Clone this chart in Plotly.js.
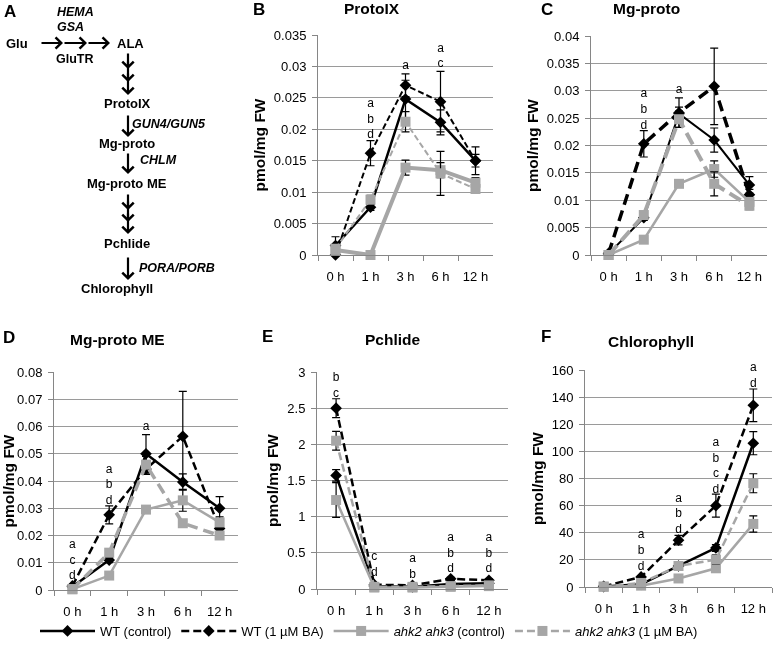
<!DOCTYPE html>
<html><head><meta charset="utf-8">
<script src="https://cdn.plot.ly/plotly-3.0.1.min.js"></script>
<style>html,body{margin:0;padding:0;background:#fff}#chart{width:774px;height:650px;filter:grayscale(100%)}</style>
</head><body><div id="chart"></div>
<script>
// ---------- data ----------
const categories = ['0 h', '1 h', '3 h', '6 h', '12 h'];
const seriesNames = ['WT (control)', 'WT (1 µM BA)', '<i>ahk2 ahk3</i> (control)', '<i>ahk2 ahk3</i> (1 µM BA)'];
const panelTitles = ['ProtoIX', 'Mg-proto', 'Mg-proto ME', 'Pchlide', 'Chlorophyll'];
const panelLetters = ['A', 'B', 'C', 'D', 'E', 'F'];
const yTitle = 'pmol/mg FW';

// rows: WT control, WT BA, ahk2 ahk3 control, ahk2 ahk3 BA
const protoIX = [
  [0.0015, 0.0076, 0.0248, 0.0211, 0.0150],
  [0.0000, 0.0162, 0.0270, 0.0244, 0.0150],
  [0.0008, 0.0000, 0.0139, 0.0135, 0.0115],
  [0.0010, 0.0088, 0.0212, 0.0130, 0.0105]];
const protoIX_err = [
  [0.0014, 0.0005, 0.0030, 0.0020, 0.0022],
  [0.0003, 0.0020, 0.0018, 0.0048, 0.0010],
  [0.0002, 0.0002, 0.0012, 0.0012, 0.0008],
  [0.0003, 0.0007, 0.0016, 0.0035, 0.0007]];
const mgProto = [
  [0.0002, 0.0068, 0.0258, 0.0210, 0.0128],
  [0.0003, 0.0203, 0.0260, 0.0308, 0.0110],
  [0.0000, 0.0028, 0.0130, 0.0157, 0.0097],
  [0.0000, 0.0073, 0.0248, 0.0130, 0.0090]];
const mgProto_err = [
  [0.0003, 0.0005, 0.0012, 0.0022, 0.0015],
  [0.0003, 0.0024, 0.0027, 0.0070, 0.0010],
  [0.0000, 0.0003, 0.0005, 0.0015, 0.0008],
  [0.0000, 0.0005, 0.0015, 0.0022, 0.0007]];
const mgProtoME = [
  [0.0012, 0.0110, 0.0500, 0.0396, 0.0300],
  [0.0015, 0.0276, 0.0444, 0.0564, 0.0226],
  [0.0003, 0.0053, 0.0295, 0.0329, 0.0248],
  [0.0003, 0.0137, 0.0460, 0.0245, 0.0200]];
const mgProtoME_err = [
  [0.0005, 0.0010, 0.0070, 0.0030, 0.0043],
  [0.0005, 0.0033, 0.0020, 0.0165, 0.0020],
  [0.0000, 0.0005, 0.0010, 0.0040, 0.0020],
  [0.0000, 0.0010, 0.0030, 0.0010, 0.0010]];
const pchlide = [
  [1.57, 0.04, 0.03, 0.07, 0.08],
  [2.50, 0.06, 0.05, 0.14, 0.12],
  [1.23, 0.02, 0.02, 0.03, 0.04],
  [2.05, 0.03, 0.03, 0.04, 0.05]];
const pchlide_err = [
  [0.08, 0.01, 0.01, 0.01, 0.01],
  [0.13, 0.01, 0.01, 0.02, 0.02],
  [0.24, 0.01, 0.01, 0.01, 0.01],
  [0.13, 0.01, 0.01, 0.01, 0.01]];
const chlorophyll = [
  [0.3, 2.0, 15.5, 28.8, 106.0],
  [0.5, 7.4, 34.5, 60.0, 134.0],
  [0.2, 1.0, 6.3, 13.8, 46.5],
  [0.3, 3.0, 15.5, 20.2, 76.5]];
const chlorophyll_err = [
  [0.2, 0.5, 1.5, 2.5, 8.5],
  [0.2, 1.0, 3.5, 8.5, 12.0],
  [0.2, 0.3, 1.0, 1.5, 6.0],
  [0.2, 0.5, 1.5, 3.5, 7.0]];

// significance letters: [category, y (middle of stack), letters]
const protoIX_letters = [['1 h', 0.0215, 'a<br>b<br>d'], ['3 h', 0.0300, 'a'], ['6 h', 0.0316, 'a<br>c']];
const mgProto_letters = [['1 h', 0.0265, 'a<br>b<br>d'], ['3 h', 0.0301, 'a']];
const mgProtoME_letters = [['0 h', 0.0108, 'a<br>c<br>d'], ['1 h', 0.0384, 'a<br>b<br>d'], ['3 h', 0.0599, 'a']];
const pchlide_letters = [['0 h', 2.81, 'b<br>c'], ['1 h', 0.33, 'c<br>d'], ['3 h', 0.306, 'a<br>b'], ['6 h', 0.49, 'a<br>b<br>d'], ['12 h', 0.49, 'a<br>b<br>d']];
const chlorophyll_letters = [['1 h', 26.6, 'a<br>b<br>d'], ['3 h', 53.7, 'a<br>b<br>d'], ['6 h', 88.8, 'a<br>b<br>c<br>d'], ['12 h', 155.7, 'a<br>d']];

// y tick labels
const protoIX_ticks = ['0', '0.005', '0.01', '0.015', '0.02', '0.025', '0.03', '0.035'];
const mgProto_ticks = ['0', '0.005', '0.01', '0.015', '0.02', '0.025', '0.03', '0.035', '0.04'];
const mgProtoME_ticks = ['0', '0.01', '0.02', '0.03', '0.04', '0.05', '0.06', '0.07', '0.08'];
const pchlide_ticks = ['0', '0.5', '1', '1.5', '2', '2.5', '3'];
const chlorophyll_ticks = ['0', '20', '40', '60', '80', '100', '120', '140', '160'];

// pathway diagram text
const diagramNodes = ['Glu', 'ALA', 'ProtoIX', 'Mg-proto', 'Mg-proto ME', 'Pchlide', 'Chlorophyll'];
const diagramGenes = ['HEMA', 'GSA', 'GluTR', 'GUN4/GUN5', 'CHLM', 'PORA/PORB'];

// ---------- layout / styling ----------
const W = 774, H = 650;
const FONT = 'Liberation Sans, Arial, Helvetica, sans-serif';
const GRAY = '#a6a6a6';
const AXC = '#868686';
const GRID = '#9a9a9a';

const panels = [
  {vals: protoIX, err: protoIX_err, letters: protoIX_letters, ticks: protoIX_ticks, box: {l: 318, r: 493, t: 35, b: 255}, widths: [2.5, 2, 4, 2]},
  {vals: mgProto, err: mgProto_err, letters: mgProto_letters, ticks: mgProto_ticks, box: {l: 591, r: 767, t: 36, b: 255}, widths: [2, 3.5, 2.5, 4]},
  {vals: mgProtoME, err: mgProtoME_err, letters: mgProtoME_letters, ticks: mgProtoME_ticks, box: {l: 54, r: 238, t: 372, b: 590}, widths: [2.5, 2.5, 2.5, 3.5]},
  {vals: pchlide, err: pchlide_err, letters: pchlide_letters, ticks: pchlide_ticks, box: {l: 317, r: 508, t: 372, b: 589}, widths: [2.5, 2.5, 2.5, 2.5]},
  {vals: chlorophyll, err: chlorophyll_err, letters: chlorophyll_letters, ticks: chlorophyll_ticks, box: {l: 585, r: 772, t: 370, b: 587}, widths: [2.5, 2.5, 2.5, 2.5]}
];
const titlePos = [[372, 9], [646, 9], [117, 339], [393, 339], [651, 341]];
const letterPos = [[10, 11], [259, 10], [547, 10], [9, 337], [267, 336], [546, 336]];

const seriesColor = ['#000000', '#000000', GRAY, GRAY];
const seriesSymbol = ['diamond', 'diamond', 'square', 'square'];
const seriesSize = [9, 9, 10, 10];
const seriesDashed = [false, true, false, true];

const traces = [];
const annotations = [];
const layout = {
  width: W, height: H,
  margin: {l: 0, r: 0, t: 0, b: 0},
  paper_bgcolor: '#ffffff', plot_bgcolor: 'rgba(0,0,0,0)',
  font: {family: FONT, color: '#000000', size: 13},
  showlegend: true,
  legend: {orientation: 'h', x: 35 / W, xanchor: 'left', y: 1 - 631 / H, yanchor: 'middle',
           font: {family: FONT, size: 13, color: '#000'}, itemwidth: 55, bgcolor: 'rgba(0,0,0,0)', traceorder: 'normal'},
  annotations: annotations
};

panels.forEach((p, i) => {
  const n = i + 1;
  const xa = 'xaxis' + (n === 1 ? '' : n), ya = 'yaxis' + (n === 1 ? '' : n);
  const xr = 'x' + (n === 1 ? '' : n), yr = 'y' + (n === 1 ? '' : n);
  const tv = p.ticks.map(Number);
  layout[xa] = {
    type: 'category', categoryorder: 'array', categoryarray: categories,
    domain: [p.box.l / W, p.box.r / W], anchor: yr, range: [-0.5, 4.5],
    tickson: 'boundaries', ticks: 'outside', ticklen: 5, tickcolor: AXC, tickwidth: 1,
    showline: true, linecolor: AXC, linewidth: 1, showgrid: false, zeroline: false,
    tickfont: {family: FONT, size: 13, color: '#000'}, ticklabelstandoff: 9, fixedrange: true
  };
  layout[ya] = {
    domain: [1 - p.box.b / H, 1 - p.box.t / H], anchor: xr, range: [tv[0], tv[tv.length - 1]],
    tickmode: 'array', tickvals: tv, ticktext: p.ticks,
    ticks: 'outside', ticklen: 5, tickcolor: AXC, tickwidth: 1,
    showline: true, linecolor: AXC, linewidth: 1, showgrid: true, gridcolor: GRID, gridwidth: 1,
    zeroline: false, tickfont: {family: FONT, size: 13, color: '#000'}, ticklabelstandoff: 3,
    title: {text: yTitle, font: {family: FONT, size: 15.5, weight: 'bold', color: '#000'}, standoff: 4},
    fixedrange: true
  };
  p.vals.forEach((row, s) => {
    const w = p.widths[s];
    traces.push({
      type: 'scatter', mode: 'lines+markers', x: categories, y: row, xaxis: xr, yaxis: yr,
      name: seriesNames[s], showlegend: i === 4, legendgroup: 's' + s, cliponaxis: false,
      line: {color: seriesColor[s], width: w,
             dash: seriesDashed[s] ? (Math.round(w * 3.2) + 'px,' + Math.round(w * 1.6) + 'px') : 'solid'},
      marker: {symbol: seriesSymbol[s], size: seriesSize[s], color: seriesColor[s], line: {width: 0}},
      error_y: {type: 'data', array: p.err[s], visible: true, color: '#000', thickness: 1.2, width: 4}
    });
  });
  // significance letters as a text trace
  traces.push({
    type: 'scatter', mode: 'text', xaxis: xr, yaxis: yr, showlegend: false, cliponaxis: false,
    x: p.letters.map(l => l[0]), y: p.letters.map(l => l[1]), text: p.letters.map(l => l[2]),
    textposition: 'middle center', textfont: {family: FONT, size: 12, color: '#000000'}, hoverinfo: 'skip'
  });
  annotations.push({
    xref: 'paper', yref: 'paper', x: titlePos[i][0] / W, y: 1 - titlePos[i][1] / H, text: panelTitles[i],
    showarrow: false, xanchor: 'center', yanchor: 'middle', font: {family: FONT, size: 15.5, weight: 'bold', color: '#000'}
  });
});
panelLetters.forEach((t, i) => annotations.push({
  xref: 'paper', yref: 'paper', x: letterPos[i][0] / W, y: 1 - letterPos[i][1] / H, text: t,
  showarrow: false, xanchor: 'center', yanchor: 'middle', font: {family: FONT, size: 17, weight: 'bold', color: '#000'}
}));

// ---------- pathway diagram (panel A) on a hidden pixel-like axis ----------
layout.xaxis6 = {domain: [0, 250 / W], range: [0, 250], visible: false, fixedrange: true, anchor: 'y6'};
layout.yaxis6 = {domain: [1 - 310 / H, 1], range: [310, 0], visible: false, fixedrange: true, anchor: 'x6'};
const nodePos = [[17, 43, 'center'], [130, 43, 'center'], [127, 103, 'center'], [127, 143, 'center'], [127, 183, 'center'], [127, 243, 'center'], [117, 288, 'center']];
const genePos = [[55, 12, 'left'], [55, 27, 'left'], [75, 59, 'center'], [130, 124, 'left'], [138, 160, 'left'], [137, 268, 'left']];
diagramNodes.forEach((t, i) => annotations.push({
  xref: 'x6', yref: 'y6', x: nodePos[i][0], y: nodePos[i][1], text: t, showarrow: false,
  xanchor: nodePos[i][2], yanchor: 'middle', font: {family: FONT, size: 13, weight: 'bold', color: '#000'}
}));
diagramGenes.forEach((t, i) => annotations.push({
  xref: 'x6', yref: 'y6', x: genePos[i][0], y: genePos[i][1], text: i === 2 ? t : '<i>' + t + '</i>', showarrow: false,
  xanchor: genePos[i][2], yanchor: 'middle', font: {family: FONT, size: 12.5, weight: 'bold', color: '#000'}
}));
// arrows: [tailX, tailY, tipX, tipY]
const arrowPaths = [
  [40, 43, 63, 43], [63, 43, 87, 43], [87, 43, 110, 43],
  [128, 52, 128, 69], [128, 60, 128, 82], [128, 72, 128, 95],
  [128, 114, 128, 137],
  [128, 152, 128, 174],
  [128, 193, 128, 210], [128, 200, 128, 222], [128, 212, 128, 234],
  [128, 256, 128, 280]
];
arrowPaths.forEach(a => annotations.push({
  xref: 'x6', yref: 'y6', axref: 'x6', ayref: 'y6', x: a[2], y: a[3], ax: a[0], ay: a[1], text: '',
  showarrow: true, arrowhead: 4, arrowsize: 1, arrowwidth: 2.2, arrowcolor: '#000', standoff: 0, startstandoff: 0
}));
traces.push({type: 'scatter', x: [], y: [], xaxis: 'x6', yaxis: 'y6', showlegend: false, hoverinfo: 'skip'});

Plotly.newPlot('chart', traces, layout, {staticPlot: true, displayModeBar: false});
</script></body></html>
